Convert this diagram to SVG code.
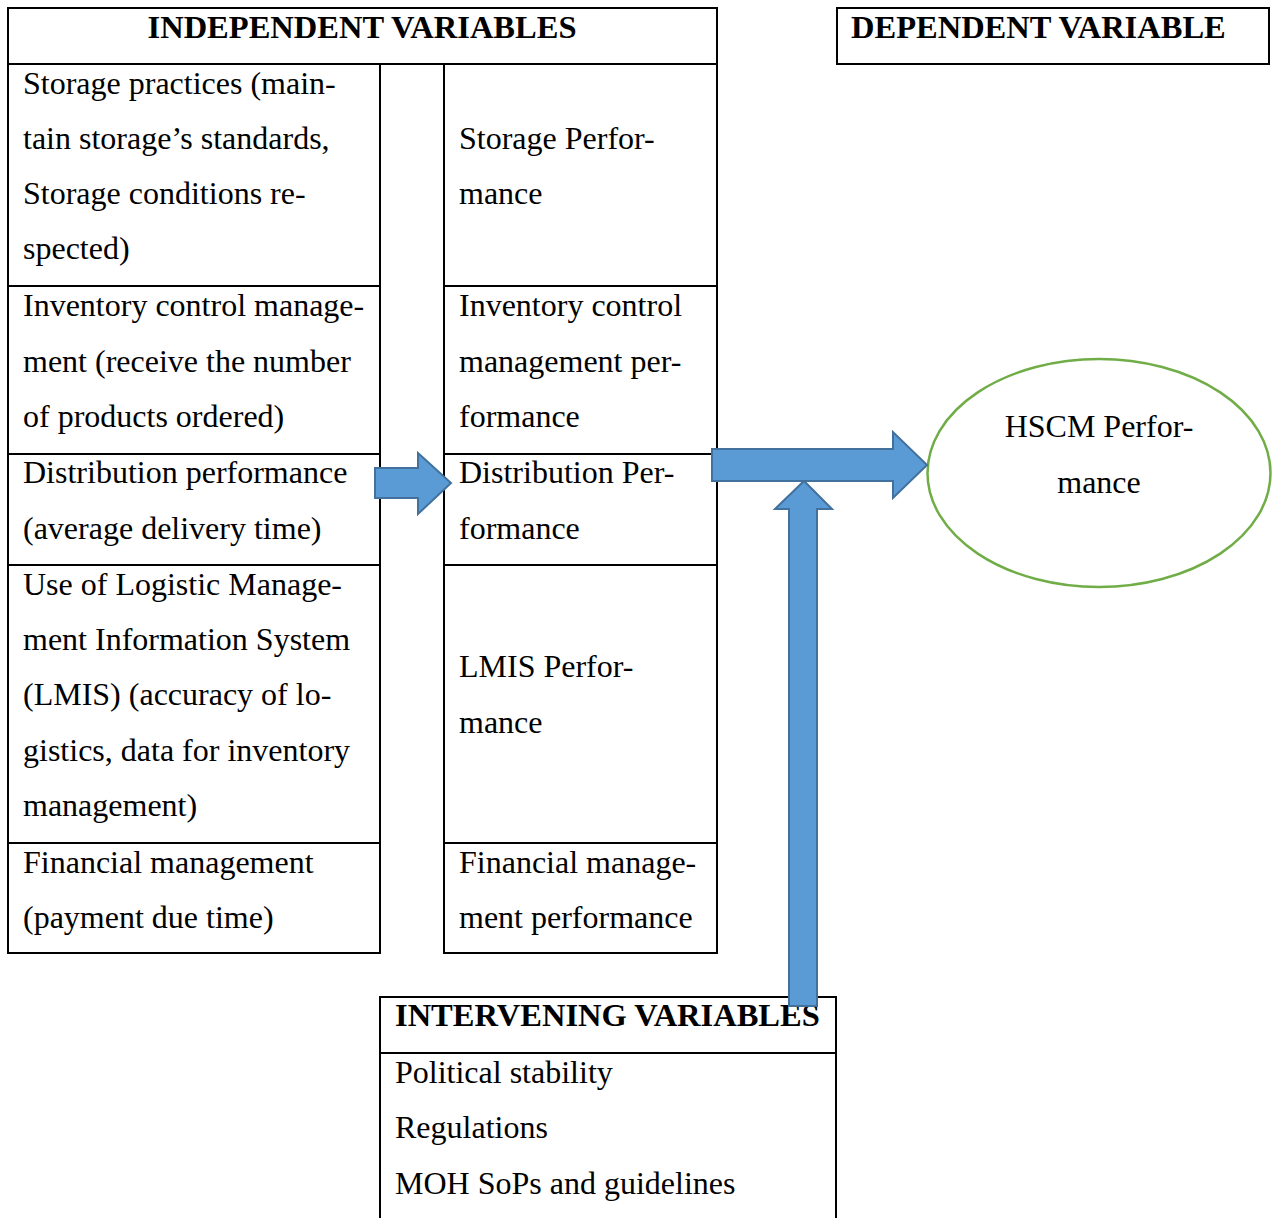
<svg xmlns="http://www.w3.org/2000/svg" width="1278" height="1218" viewBox="0 0 1278 1218">
<style>
.t{font-family:"Liberation Serif","Times New Roman",serif;font-size:32px;fill:#000}
.b{font-weight:bold;font-size:32.5px}
.ln{stroke:#000;stroke-width:2;fill:none}
.arr{fill:#5B9BD5;stroke:#41719C;stroke-width:2;stroke-linejoin:miter}
</style>
<rect width="1278" height="1218" fill="#fff"/>
<g id="independent">
<rect class="ln" x="8" y="8" width="709" height="56"/>
<polyline class="ln" points="8,64 8,953 380,953 380,64"/>
<polyline class="ln" points="444,64 444,953 717,953 717,64"/>
<line class="ln" x1="8" y1="286" x2="380" y2="286"/>
<line class="ln" x1="444" y1="286" x2="717" y2="286"/>
<line class="ln" x1="8" y1="454" x2="380" y2="454"/>
<line class="ln" x1="444" y1="454" x2="717" y2="454"/>
<line class="ln" x1="8" y1="565" x2="380" y2="565"/>
<line class="ln" x1="444" y1="565" x2="717" y2="565"/>
<line class="ln" x1="8" y1="843" x2="380" y2="843"/>
<line class="ln" x1="444" y1="843" x2="717" y2="843"/>
<text class="t b" x="362" y="38" text-anchor="middle">INDEPENDENT VARIABLES</text>
<text class="t" x="23" y="94">Storage practices (main-</text>
<text class="t" x="23" y="149">tain storage’s standards,</text>
<text class="t" x="23" y="204">Storage conditions re-</text>
<text class="t" x="23" y="259">spected)</text>
<text class="t" x="23" y="316">Inventory control manage-</text>
<text class="t" x="23" y="372">ment (receive the number</text>
<text class="t" x="23" y="427">of products ordered)</text>
<text class="t" x="23" y="483">Distribution performance</text>
<text class="t" x="23" y="539">(average delivery time)</text>
<text class="t" x="23" y="595">Use of Logistic Manage-</text>
<text class="t" x="23" y="650">ment Information System</text>
<text class="t" x="23" y="705">(LMIS) (accuracy of lo-</text>
<text class="t" x="23" y="761">gistics, data for inventory</text>
<text class="t" x="23" y="816">management)</text>
<text class="t" x="23" y="873">Financial management</text>
<text class="t" x="23" y="928">(payment due time)</text>
<text class="t" x="459" y="149">Storage Perfor-</text>
<text class="t" x="459" y="204">mance</text>
<text class="t" x="459" y="316">Inventory control</text>
<text class="t" x="459" y="372">management per-</text>
<text class="t" x="459" y="427">formance</text>
<text class="t" x="459" y="483">Distribution Per-</text>
<text class="t" x="459" y="539">formance</text>
<text class="t" x="459" y="677">LMIS Perfor-</text>
<text class="t" x="459" y="733">mance</text>
<text class="t" x="459" y="873">Financial manage-</text>
<text class="t" x="459" y="928">ment performance</text>
</g>
<g id="dependent">
<rect class="ln" x="837" y="8" width="432" height="56"/>
<text class="t b" x="851" y="38">DEPENDENT VARIABLE</text>
</g>
<g id="hscm">
<ellipse cx="1099" cy="473" rx="171.5" ry="114" fill="none" stroke="#70AD47" stroke-width="2.5"/>
<text class="t" x="1099" y="437" text-anchor="middle">HSCM Perfor-</text>
<text class="t" x="1099" y="493" text-anchor="middle">mance</text>
</g>
<g id="intervening">
<polyline class="ln" points="380,1220 380,997 836,997 836,1220"/>
<line class="ln" x1="380" y1="1053" x2="836" y2="1053"/>
<text class="t b" x="395" y="1026">INTERVENING VARIABLES</text>
<text class="t" x="395" y="1083">Political stability</text>
<text class="t" x="395" y="1138">Regulations</text>
<text class="t" x="395" y="1194">MOH SoPs and guidelines</text>
</g>
<g id="connectors">
<polygon class="arr" points="375,468 418,468 418,453 451,483 418,514 418,498 375,498"/>
<polygon class="arr" points="712,449 893,449 893,432 927,465 893,498 893,481 712,481"/>
<polygon class="arr" points="804,481 832,509 817,509 817,1006 789,1006 789,509 775,509"/>
</g>
</svg>
